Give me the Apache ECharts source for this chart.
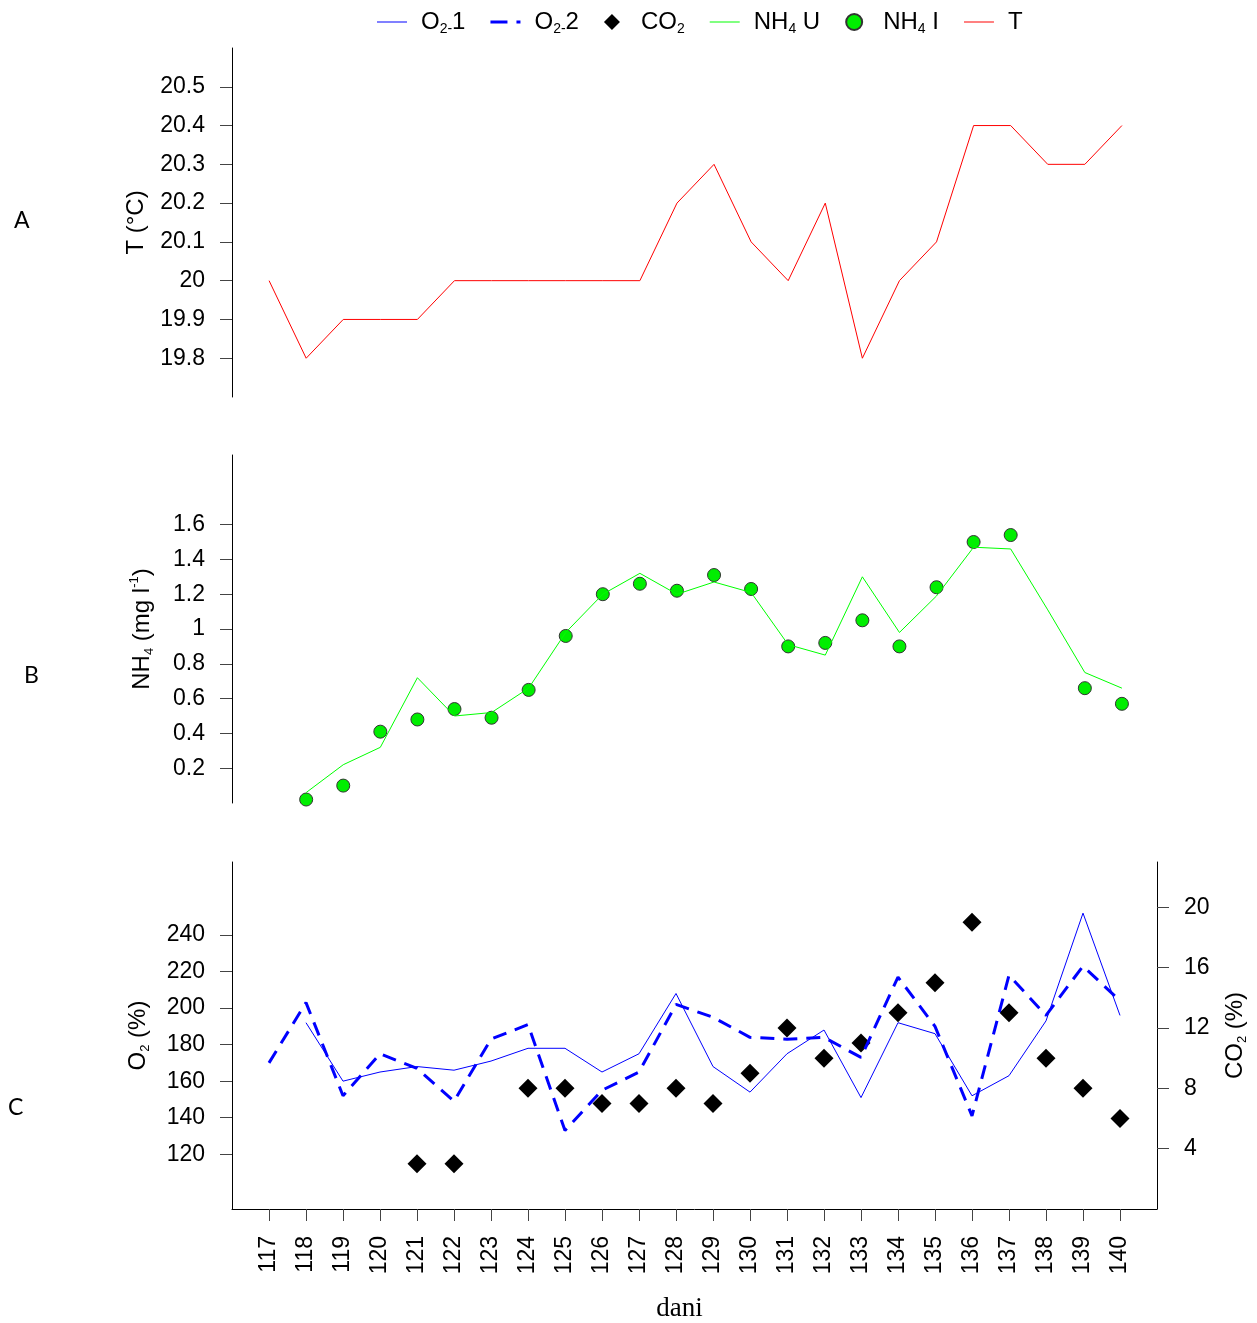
<!DOCTYPE html>
<html lang="hr">
<head>
<meta charset="UTF-8">
<title>T, NH4, O2, CO2</title>
<script src="https://cdn.jsdelivr.net/npm/echarts@6/dist/echarts.min.js"></script>
<style>html,body{margin:0;padding:0;background:#fff}</style>
</head>
<body>
<div id="main" style="width:1257px;height:1323px;"></div>
<script>
// dani (x os)
var days = [117,118,119,120,121,122,123,124,125,126,127,128,129,130,131,132,133,134,135,136,137,138,139,140];
// A: temperatura
var tempT = [20.0,19.8,19.9,19.9,19.9,20.0,20.0,20.0,20.0,20.0,20.0,20.2,20.3,20.1,20.0,20.2,19.8,20.0,20.1,20.4,20.4,20.3,20.3,20.4];
// B: NH4 ulaz (linija) i izlaz (tocke)
var nh4U = [null,0.06,0.22,0.32,0.72,0.50,0.52,0.66,0.98,1.20,1.32,1.20,1.27,1.21,0.91,0.85,1.30,0.98,1.19,1.47,1.46,1.11,0.75,0.66];
var nh4I = [null,0.02,0.10,0.41,0.48,0.54,0.49,0.65,0.96,1.20,1.26,1.22,1.31,1.23,0.90,0.92,1.05,0.90,1.24,1.50,1.54,null,0.66,0.57];
// C: O2 i CO2
var o2a = [null,192,160,165,168,166,171,178,178,165,175,208,168,154,175,188,151,192,186,152,163,193,252,196];
var o2b = [170,203,152,175,167,149,183,191,133,155,165,202,195,184,183,184,173,217,190,141,218,196,223,204];
var co2 = [null,null,null,null,3,3,null,8,8,7,7,8,7,9,12,10,11,13,15,19,13,10,8,6];
// tick labels
var ticksT = [19.8,19.9,20,20.1,20.2,20.3,20.4,20.5];
var ticksNH4 = [0.2,0.4,0.6,0.8,1,1.2,1.4,1.6];
var ticksO2 = [120,140,160,180,200,220,240];
var ticksCO2 = [4,8,12,16,20];

var FONT = 'Liberation Sans';
var LBL = 23;

function pairs(arr) {
    var out = [];
    days.forEach(function (d, i) {
        if (arr[i] !== null) out.push([d, arr[i]]);
    });
    return out;
}

function makeRich(size, sub) {
    return {
        n: {fontSize: size, fontFamily: FONT, color: '#000', lineHeight: size + 4},
        s: {fontSize: sub, fontFamily: FONT, color: '#000', lineHeight: sub, verticalAlign: 'bottom'},
        p: {fontSize: sub, fontFamily: FONT, color: '#000', lineHeight: sub, verticalAlign: 'top'}
    };
}
var richName = makeRich(24, 13);
var richLegend = makeRich(24, 14);

var legendText = {
    'O2-1': '{n|O}{s|2-}{n|1}',
    'O2-2': '{n|O}{s|2-}{n|2}',
    'CO2': '{n|CO}{s|2}',
    'NH4 U': '{n|NH}{s|4}{n| U}',
    'NH4 I': '{n|NH}{s|4}{n| I}',
    'T': '{n|T}'
};

var lineIcon = 'path://M0,0 H30 V1 H0 Z';
var dashIcon = 'path://M0,0 H17 V3 H0 Z M26,0 H30 V3 H26 Z';
var diamondIcon = 'path://M8,0 L16,8 L8,16 L0,8 Z';

function xAx(i, shown) {
    var ax = {type: 'value', gridIndex: i, min: 116, max: 141, splitLine: {show: false}};
    if (!shown) {
        ax.show = false;
        return ax;
    }
    ax.axisLine = {show: true, lineStyle: {color: '#000', width: 1}};
    ax.axisTick = {show: true, customValues: days, length: 12, lineStyle: {color: '#444'}};
    ax.axisLabel = {customValues: days, rotate: 90, margin: 27, fontSize: LBL, fontFamily: FONT, color: '#000'};
    ax.name = 'dani';
    ax.nameLocation = 'middle';
    ax.nameGap = 86;
    ax.nameTextStyle = {fontFamily: 'Liberation Serif', fontSize: 27, color: '#000', padding: [0, 30, 0, 0]};
    return ax;
}

function yAx(i, min, max, ticks, name, gap, pos) {
    return {
        type: 'value', gridIndex: i, min: min, max: max, position: pos || 'left',
        splitLine: {show: false},
        axisLine: {show: true, lineStyle: {color: '#000', width: 1}},
        axisTick: {show: true, customValues: ticks, length: 12, lineStyle: {color: '#444'}},
        axisLabel: {customValues: ticks, margin: 27, fontSize: LBL, fontFamily: FONT, color: '#000'},
        name: name, nameLocation: 'middle', nameRotate: 90, nameGap: gap,
        nameTextStyle: {rich: richName}
    };
}

var myChart = echarts.init(document.getElementById('main'));

var option = {
    animation: false,
    backgroundColor: '#fff',
    title: [
        {text: 'A', left: 9, top: 204, textStyle: {fontFamily: 'Lato', fontSize: 23, fontWeight: 'normal', color: '#000'}},
        {text: 'B', left: 19, top: 659, textStyle: {fontFamily: 'Lato', fontSize: 23, fontWeight: 'normal', color: '#000'}},
        {text: 'C', left: 3, top: 1091, textStyle: {fontFamily: 'Lato', fontSize: 23, fontWeight: 'normal', color: '#000'}}
    ],
    legend: {
        left: 372, top: 5,
        itemWidth: 30, itemHeight: 16, itemGap: 25,
        data: [
            {name: 'O2-1', icon: lineIcon},
            {name: 'O2-2', icon: dashIcon},
            {name: 'CO2', icon: diamondIcon},
            {name: 'NH4 U', icon: lineIcon},
            {name: 'NH4 I', icon: 'circle'},
            {name: 'T', icon: lineIcon}
        ],
        formatter: function (name) { return legendText[name]; },
        textStyle: {rich: richLegend, padding: [0, 0, 0, 9]}
    },
    grid: [
        {left: 232, right: 98, top: 48, height: 349},
        {left: 232, right: 98, top: 455, height: 348},
        {left: 232, right: 98, top: 862, height: 347}
    ],
    xAxis: [xAx(0, false), xAx(1, false), xAx(2, true)],
    yAxis: [
        yAx(0, 19.7, 20.6, ticksT, '{n|T (°C)}', 82),
        yAx(1, 0, 2.0, ticksNH4, '{n|NH}{s|4}{n| (mg l}{p|-1}{n|)}', 76),
        yAx(2, 90, 280, ticksO2, '{n|O}{s|2}{n| (%)}', 80),
        yAx(2, 0, 23, ticksCO2, '{n|CO}{s|2}{n| (%)}', 64, 'right')
    ],
    series: [
        {
            name: 'O2-1', type: 'line', xAxisIndex: 2, yAxisIndex: 2,
            data: pairs(o2a), symbol: 'none',
            lineStyle: {color: '#0000ff', width: 1}, itemStyle: {color: '#0000ff'}
        },
        {
            name: 'O2-2', type: 'line', xAxisIndex: 2, yAxisIndex: 2,
            data: pairs(o2b), symbol: 'none',
            lineStyle: {color: '#0000ff', width: 3, type: [14, 9]}, itemStyle: {color: '#0000ff'}
        },
        {
            name: 'CO2', type: 'scatter', xAxisIndex: 2, yAxisIndex: 3,
            data: pairs(co2), symbol: 'diamond', symbolSize: 19,
            itemStyle: {color: '#000', opacity: 1}
        },
        {
            name: 'NH4 U', type: 'line', xAxisIndex: 1, yAxisIndex: 1,
            data: pairs(nh4U), symbol: 'none',
            lineStyle: {color: '#00ff00', width: 1}, itemStyle: {color: '#00ff00'}
        },
        {
            name: 'NH4 I', type: 'scatter', xAxisIndex: 1, yAxisIndex: 1,
            data: pairs(nh4I), symbol: 'circle', symbolSize: 13,
            itemStyle: {color: '#00ee00', borderColor: '#333', borderWidth: 1, opacity: 1}
        },
        {
            name: 'T', type: 'line', xAxisIndex: 0, yAxisIndex: 0,
            data: pairs(tempT), symbol: 'none',
            lineStyle: {color: '#ff0000', width: 1}, itemStyle: {color: '#ff0000'}
        }
    ]
};

myChart.setOption(option);
</script>
</body>
</html>
